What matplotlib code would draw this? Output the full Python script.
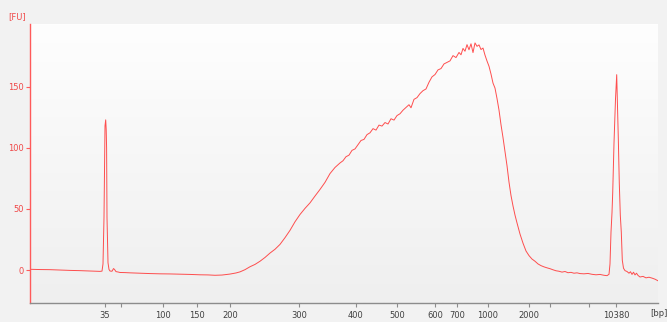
import numpy as np
import matplotlib
matplotlib.use("Agg")
import matplotlib.pyplot as plt

# ladder: size (bp) and migration position
ladder_bp = [35, 50, 100, 150, 200, 300, 400, 500, 600, 700, 1000, 2000, 3000, 7000, 10380]
ladder_pos = [105, 121, 163, 197, 230, 299, 356, 397, 435, 457, 488, 529, 550, 589, 616]
ladder_labels = ["35", "", "100", "150", "200", "300", "400", "500", "600", "700",
                 "1000", "2000", "", "", "10380"]

# electropherogram trace: migration position and fluorescence (FU)
t = [30, 40, 50, 60, 70, 80, 90, 100, 102,
     103, 104, 105, 105.7, 106.2, 106.6, 107, 108, 109, 110, 112, 113.5, 114.5, 116, 118, 120, 125,
     130, 140, 150, 160, 170, 180, 190, 200, 208, 215, 222, 230, 236, 240, 245, 250, 255, 260, 265,
     270, 275, 280, 285, 290, 295, 300, 305, 310, 315, 320, 325, 330, 335,
     340, 343, 346, 349, 352, 355, 358, 361, 364, 367, 370, 373, 376, 379, 382, 385, 388, 391, 394,
     397, 400, 403, 406, 409, 411, 414, 417, 420, 423, 426, 429, 432, 435, 438, 441, 444, 447, 450,
     453, 456, 459, 461, 463, 465, 467, 469, 471, 473, 475, 477, 479, 481, 483, 485, 487, 489, 491,
     493, 495, 497, 499, 501, 503, 505, 507, 509, 511, 513, 515, 517, 520, 523, 526, 529, 532, 535,
     538, 541, 544, 547, 550, 553, 556, 559, 562, 565, 568, 571, 574, 577, 580, 584, 588, 592, 596,
     600, 604, 607, 609, 610, 611, 612, 612.7, 614, 615.5, 616.7, 617.5, 618.3, 619.3, 620.3, 621.3,
     622.3, 623.5, 625, 627, 629, 630.5, 632, 633.5, 635, 636.5, 638, 640, 643, 646, 649, 652, 655, 658]
fu = [0.6, 0.4, 0.3, 0.0, -0.3, -0.5, -0.8, -1.1, -0.9,
      5, 43, 118, 123, 115, 100, 43, 6, 0.5, -0.8, -1.0, 1.2, 0.5, -1.3, -1.6, -2.0, -2.1,
      -2.3, -2.6, -2.9, -3.1, -3.2, -3.4, -3.6, -3.9, -4.0, -4.3, -4.1, -3.3, -2.4, -1.5, 0.3, 2.7,
      4.6, 7.2, 10.3,
      13.9, 17.0, 21.0, 26.5, 32.5, 39.5, 45.5, 50.5, 55.0, 60.6, 66.0, 71.8, 79.0, 84.0,
      87.7, 89.5, 92.8, 94.1, 98.0, 99.2, 102.6, 106.1, 107.0, 110.9, 112.4, 115.8, 114.6, 118.7,
      117.9, 120.8, 119.6, 123.9, 122.8,
      126.5, 128.0, 130.9, 133.2, 135.4, 132.9, 139.8, 141.2, 144.5, 146.9, 148.3, 153.8, 158.2,
      160.1, 163.9, 165.0, 168.8, 170.1, 171.3,
      175.6, 174.0, 178.2, 176.3, 181.5, 179.2, 184.6, 180.4, 185.3, 178.1, 186.0, 183.2, 184.4,
      180.6, 181.8, 176.0, 171.2, 166.9, 160.5,
      153.1, 149.0, 140.5, 131.0, 119.0, 108.5, 97.0, 85.5, 72.0, 61.0, 52.5, 45.0, 38.6, 29.5,
      22.0, 15.6, 11.8, 9.0, 7.2,
      5.0, 3.6, 2.6, 1.8, 1.1, 0.2, -0.6, -1.0, -1.7, -1.2, -2.2, -1.9, -2.6, -2.3, -2.9, -3.1,
      -2.8, -3.5, -3.9,
      -3.6, -4.3, -4.6, -3.5, 5, 31, 47, 63, 104, 140, 160, 135, 108, 71, 45, 31,
      8, 1.5, -0.5, -1.2, -2.6, -1.4, -3.6, -1.8, -4.0, -2.6, -4.4, -5.7, -5.2, -6.4, -5.9, -6.6,
      -7.5, -8.8]

y_ticks = [0, 50, 100, 150]

RED = "#ff3b3b"
fig = plt.figure(figsize=(6.67, 3.22), dpi=100, facecolor="#f2f2f2")
ax = fig.add_axes([30 / 667, 1 - 303 / 322, (658 - 30) / 667, (303 - 24) / 322])
ax.set_facecolor("#f4f4f4")

# background gradient (white top to light gray bottom)
grad = np.linspace(0, 1, 256).reshape(-1, 1)
cmap = matplotlib.colors.LinearSegmentedColormap.from_list("bg", ["#fefefe", "#efefef"])
ax.imshow(grad, extent=[0, 1, 0, 1], transform=ax.transAxes, cmap=cmap,
          aspect="auto", zorder=0, origin="upper")

ax.plot(t, fu, color=RED, lw=0.7, alpha=0.9, zorder=2)

ax.set_xlim(30, 658)
ax.set_ylim(-27, 201.5)

ax.set_xticks(ladder_pos)
ax.set_xticklabels(ladder_labels)
ax.set_yticks(y_ticks)

for s in ["top", "right"]:
    ax.spines[s].set_visible(False)
ax.spines["left"].set_color("#ff5a5a")
ax.spines["left"].set_linewidth(1.0)
ax.spines["bottom"].set_color("#8c8c8c")
ax.spines["bottom"].set_linewidth(1.0)

ax.tick_params(axis="x", colors="#8c8c8c", labelcolor="#404040", length=3,
               width=0.8, labelsize=6, pad=2.5)
ax.tick_params(axis="y", colors="#ff5a5a", labelcolor="#f04848", length=3,
               width=0.8, labelsize=6, pad=1.5)

fig.text(8 / 667, 1 - 17 / 322, "[FU]", color="#f04848", fontsize=6, va="center", ha="left")
fig.text(650 / 667, 1 - 313 / 322, "[bp]", color="#404040", fontsize=6, va="center", ha="left")

fig.savefig("out.png", dpi=100, facecolor=fig.get_facecolor())
